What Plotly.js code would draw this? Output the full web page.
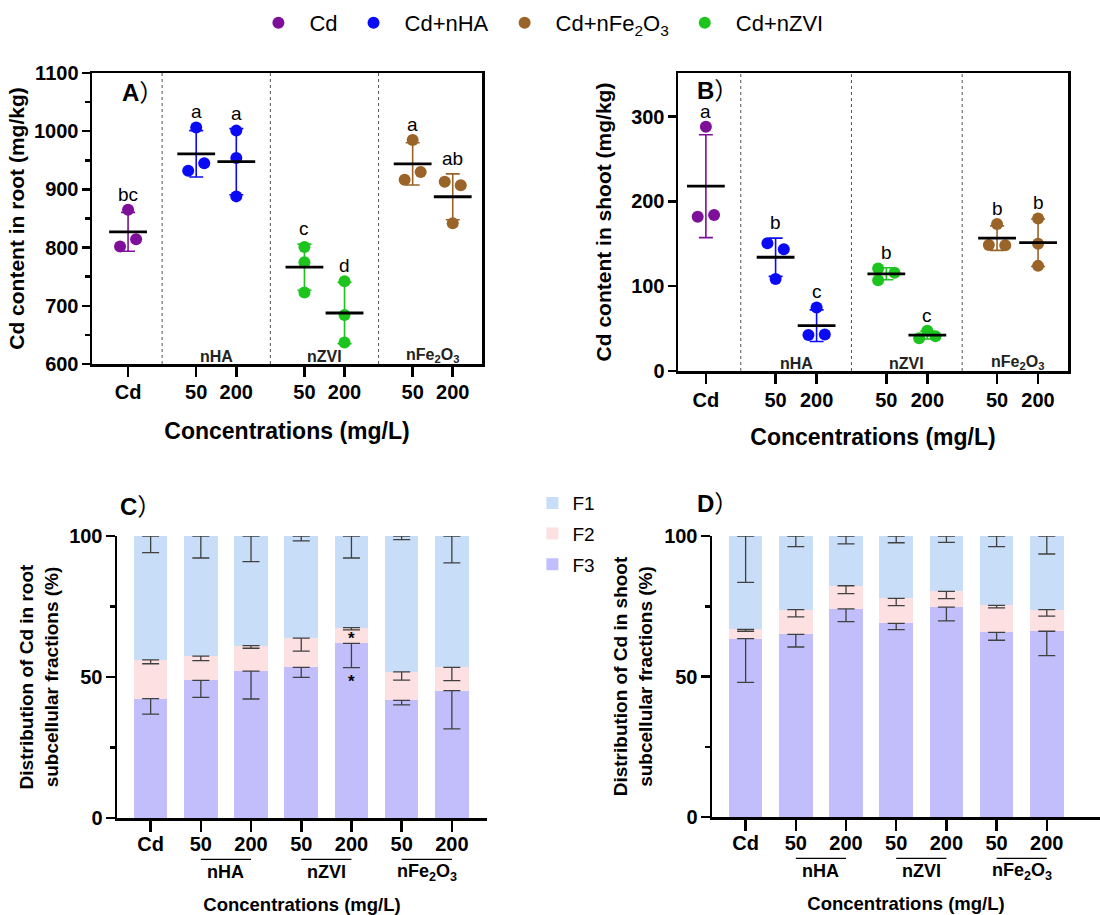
<!DOCTYPE html>
<html><head><meta charset="utf-8">
<script src="https://cdn.plot.ly/plotly-3.0.1.min.js"></script>
<style>html,body{margin:0;padding:0;background:#fff}</style>
</head><body><div id="chart" style="width:1100px;height:915px"></div>
<script>
// ---------- data ----------
const treatments = ["Cd","50","200","50","200","50","200"];
const treatmentGroup = ["Cd","nHA","nHA","nZVI","nZVI","nFe2O3","nFe2O3"];
const groupLabels = ["nHA","nZVI","nFe<sub>2</sub>O<sub>3</sub>"];
const legendNames = ["Cd","Cd+nHA","Cd+nFe<sub>2</sub>O<sub>3</sub>","Cd+nZVI"];
const legendGroups = ["Cd","nHA","nFe2O3","nZVI"];

// Panel A: Cd content in root (mg/kg), three replicates per treatment
const rootCd = [[865,802,814.5],[1006.5,932,945],[1001,954,888],[801,775,723],[742,684,637],[985,916.5,930],[913,907,842]];
const rootLetters = ["bc","a","a","c","d","a","ab"];
// Panel B: Cd content in shoot (mg/kg)
const shootCd = [[288,182,184],[150.6,143.5,108.5],[75,42.5,43],[121,107,116],[47.6,38.5,41],[173.4,148.6,148.2],[180,150,124]];
const shootLetters = ["a","b","c","b","c","b","b"];

// Panel C: root subcellular fractions (%)
const rootF3 = [42.3,48.8,52.1,53.4,61.9,41.7,45.2];
const rootF2 = [13.8,8.6,9.0,10.4,5.6,10.1,8.2];
const rootF1 = [43.9,42.6,38.9,36.2,32.5,48.2,46.6];
const rootF3err = [5.5,6.0,9.9,3.5,8.6,1.6,13.6];
const rootF2err = [1.4,1.6,0.9,4.6,0.8,2.9,4.7];
const rootF1err = [5.9,7.8,9.1,1.7,7.8,1.3,9.5];
const rootStars = ["","","","","*","",""];
// Panel D: shoot subcellular fractions (%)
const shootF3 = [63.5,65.0,74.1,68.9,74.7,65.7,66.1];
const shootF2 = [3.3,8.8,8.2,8.9,5.6,9.6,7.7];
const shootF1 = [33.2,26.2,17.7,22.2,19.7,24.7,26.2];
const shootF3err = [15.6,4.5,4.6,2.2,4.9,2.8,8.7];
const shootF2err = [0.7,2.6,2.8,2.6,2.6,0.9,2.3];
const shootF1err = [16.5,3.8,2.8,2.4,2.3,3.8,6.4];

// ---------- styles ----------
const groupColor = {"Cd":"#7d0f98","nHA":"#0a0af5","nZVI":"#1ec41e","nFe2O3":"#9a6428"};
const jitterA = [[0,-1,1],[0,-1,1],[0,0,0],[0,0,0],[0,0,0],[0,-1,1],[-1,1,0]];
const jitterB = [[0,-1,1],[-1,1,0],[0,-1,1],[-1,-1,1],[0,-1,1],[0,-1,1],[0,0,0]];
const fracColors = {F1:"#c8ddf7",F2:"#fde0e1",F3:"#c1befb"};
const FF = "Liberation Sans, Arial, Noto Sans CJK SC, sans-serif";

// scatter positions: Cd alone, then pairs (50,200) per nanomaterial group
function posOf(i){ if(i===0) return 0; const g=Math.floor((i-1)/2), k=(i-1)%2; return 1.7+2.7*g+k; }
const pos = treatments.map((_,i)=>posOf(i));
const mean = a => a.reduce((s,v)=>s+v,0)/a.length;
const sd = a => { const m=mean(a); return Math.sqrt(a.reduce((s,v)=>s+(v-m)*(v-m),0)/(a.length-1)); };

const traces = [];
const annotations = [];
const shapes = [];
const legendShown = {};

function scatterPanel(data, jit, letters, xa, ya, showLeg){
  data.forEach((pts,i)=>{
    const g = treatmentGroup[i], col = groupColor[g];
    const m = mean(pts), s = sd(pts);
    traces.push({type:'scatter',mode:'markers',x:[pos[i]],y:[m],xaxis:xa,yaxis:ya,showlegend:false,hoverinfo:'skip',
      marker:{size:1,color:'rgba(0,0,0,0)'},
      error_y:{type:'data',array:[s],visible:true,color:col,thickness:1.6,width:7}});
    let show=false;
    if(showLeg && !legendShown[g]){ show=true; legendShown[g]=true; }
    const li = legendGroups.indexOf(g);
    traces.push({type:'scatter',mode:'markers',x:pts.map((_,k)=>pos[i]+0.2*jit[i][k]),y:pts,xaxis:xa,yaxis:ya,
      name:legendNames[li],legendgroup:g,legendrank:li+1,showlegend:show,legend:'legend',
      marker:{size:12,color:col}});
    traces.push({type:'scatter',mode:'markers',x:[pos[i]],y:[m],xaxis:xa,yaxis:ya,showlegend:false,hoverinfo:'skip',
      marker:{symbol:'line-ew',size:27,line:{color:'#000',width:2.8}}});
    annotations.push({xref:xa,yref:ya,x:pos[i],y:Math.max(Math.max(...pts),m+s),yanchor:'bottom',yshift:3,
      text:letters[i],showarrow:false,font:{family:FF,size:19,color:'#000'}});
  });
  // dotted separators between groups, group labels inside
  for(let g=0; g<3; g++){
    const xs = (pos[2*g] + pos[2*g+1]) / 2;
    shapes.push({type:'line',xref:xa,yref:ya+' domain',x0:xs,x1:xs,y0:0,y1:1,line:{color:'#555',width:1,dash:'dot'}});
    const xc = (pos[2*g+1]+pos[2*g+2])/2;
    annotations.push({xref:xa,yref:ya+' domain',x:xc,y:0,yanchor:'bottom',yshift:-3,text:groupLabels[g],showarrow:false,
      font:{family:FF,size:16,color:'#222',weight:'bold'}});
  }
}
scatterPanel(rootCd, jitterA, rootLetters, 'x', 'y', true);
scatterPanel(shootCd, jitterB, shootLetters, 'x2', 'y2', false);

function barPanel(F1,F2,F3,e1,e2,e3,xa,ya,showLeg){
  const xi = treatments.map((_,i)=>i);
  const series = [["F3",F3],["F2",F2],["F1",F1]];
  series.forEach(([nm,v],k)=>{
    traces.push({type:'bar',x:xi,y:v,xaxis:xa,yaxis:ya,name:nm,width:0.67,legend:'legend2',
      legendgroup:nm,legendrank:3-k,showlegend:showLeg,marker:{color:fracColors[nm],line:{width:0}}});
  });
  const top3 = F3, top2 = F3.map((v,i)=>v+F2[i]), top1 = top2.map((v,i)=>v+F1[i]);
  [[top3,e3],[top2,e2],[top1,e1]].forEach(([t,e])=>{
    traces.push({type:'scatter',mode:'markers',x:xi,y:t,xaxis:xa,yaxis:ya,showlegend:false,hoverinfo:'skip',
      marker:{size:1,color:'rgba(0,0,0,0)'},
      error_y:{type:'data',symmetric:false,array:t.map(()=>0),arrayminus:e,color:'#404040',thickness:1.3,width:8.5}});
  });
  // group labels under the ticks with overline
  for(let g=0; g<3; g++){
    const a = 2*g+1, b = 2*g+2;
    shapes.push({type:'line',xref:xa,yref:ya+' domain',x0:a,x1:b,y0:-0.147,y1:-0.147,line:{color:'#000',width:1.3}});
    annotations.push({xref:xa,yref:ya+' domain',x:(a+b)/2,y:-0.193,yanchor:'middle',text:groupLabels[g],showarrow:false,
      font:{family:FF,size:18,color:'#000',weight:'bold'}});
  }
  return {top2, top3};
}
const cTops = barPanel(rootF1,rootF2,rootF3,rootF1err,rootF2err,rootF3err,'x3','y3',true);
barPanel(shootF1,shootF2,shootF3,shootF1err,shootF2err,shootF3err,'x4','y4',false);
rootStars.forEach((s,i)=>{
  if(!s) return;
  annotations.push({xref:'x3',yref:'y3',x:i,y:(cTops.top3[i]+cTops.top2[i])/2,text:'<b>'+s+'</b>',showarrow:false,yshift:-3,
    font:{family:FF,size:17,color:'#000'}});
  annotations.push({xref:'x3',yref:'y3',x:i,y:rootF3[i]-rootF3err[i],yanchor:'top',yshift:-2,text:'<b>'+s+'</b>',showarrow:false,
    font:{family:FF,size:17,color:'#000'}});
});

// panel labels
[["A",0.109,0.899],["B",0.632,0.901],["C",0.107,0.446],["D",0.632,0.450]].forEach(([t,x,y])=>{
  annotations.push({xref:'paper',yref:'paper',x:x,y:y,xanchor:'left',yanchor:'middle',showarrow:false,
    text:'<b>'+t+'</b>）',font:{family:FF,size:24,color:'#000'}});
});

const tickFont = {family:FF,size:20,color:'#000',weight:'bold'};
function xaxisCfg(domain, range, vals, mirror, anchor, tlen, soff){
  return {domain:domain,range:range,anchor:anchor,tickvals:vals,ticktext:treatments,ticks:'outside',ticklen:tlen,tickwidth:2.5,
    tickcolor:'#000',linecolor:'#000',linewidth:2.5,mirror:mirror,showgrid:false,zeroline:false,tickfont:tickFont,
    ticklabelstandoff:soff,fixedrange:true};
}
function xTitle(size, standoff){ return {title:{text:'Concentrations (mg/L)',font:{family:FF,size:size,color:'#000',weight:'bold'},standoff:standoff}}; }
function yaxisCfg(domain, range, dtick, minor, mirror, anchor, title, standoff, tsize, tlen){
  const c = {domain:domain,range:range,anchor:anchor,dtick:dtick,tick0:0,ticks:'outside',ticklen:tlen,tickwidth:2.5,tickcolor:'#000',
    linecolor:'#000',linewidth:2.5,mirror:mirror,showgrid:false,zeroline:false,tickfont:tickFont,ticklabelstandoff:-1,
    title:{text:title,font:{family:FF,size:tsize,color:'#000',weight:'bold'},standoff:standoff}};
  if(minor) c.minor = {dtick:minor,ticks:'outside',ticklen:5,tickwidth:2.5,tickcolor:'#000',showgrid:false};
  return c;
}
const idx = treatments.map((_,i)=>i);
const layout = {
  width:1100,height:915,margin:{l:0,r:0,t:0,b:0},paper_bgcolor:'#fff',plot_bgcolor:'rgba(0,0,0,0)',
  barmode:'stack',showlegend:true,
  font:{family:FF,color:'#000'},
  xaxis: Object.assign(xaxisCfg([92/1100,482/1100],[-0.9,8.83],pos,true,'y',10,-2),xTitle(23,22)),
  yaxis: yaxisCfg([551/915,842/915],[600,1100],100,50,true,'x','Cd content in root (mg/kg)',4,21,8),
  xaxis2: Object.assign(xaxisCfg([678/1100,1068/1100],[-0.68,8.83],pos,true,'y2',10,-1),xTitle(23,20)),
  yaxis2: yaxisCfg([544/915,842/915],[0,351.5],100,null,true,'x2','Cd content in shoot (mg/kg)',14,21,8),
  xaxis3: Object.assign(xaxisCfg([117/1100,487/1100],[-0.67,6.7],idx,false,'y3',11,-5),xTitle(18.5,47)),
  yaxis3: yaxisCfg([97/915,379/915],[0,100],50,25,false,'x3','Distribution of Cd in root<br>subcellular fractions (%)',6,19,9),
  xaxis4: Object.assign(xaxisCfg([712/1100,1],[-0.67,7.06],idx,false,'y4',11,-5),xTitle(18.5,45)),
  yaxis4: yaxisCfg([98/915,379/915],[0,100],50,25,false,'x4','Distribution of Cd in shoot<br>subcellular fractions (%)',7,19,9),
  legend:{orientation:'h',x:0.489,xanchor:'center',y:0.975,yanchor:'middle',font:{family:FF,size:22,color:'#000'},
    traceorder:'normal',bgcolor:'rgba(0,0,0,0)',itemwidth:52},
  legend2:{orientation:'v',x:0.484,xanchor:'left',y:0.471,yanchor:'top',font:{family:FF,size:19,color:'#000'},
    traceorder:'grouped',tracegroupgap:3,bgcolor:'rgba(0,0,0,0)'},
  annotations:annotations,shapes:shapes
};
Plotly.newPlot('chart',traces,layout,{displayModeBar:false,staticPlot:true});
</script></body></html>
